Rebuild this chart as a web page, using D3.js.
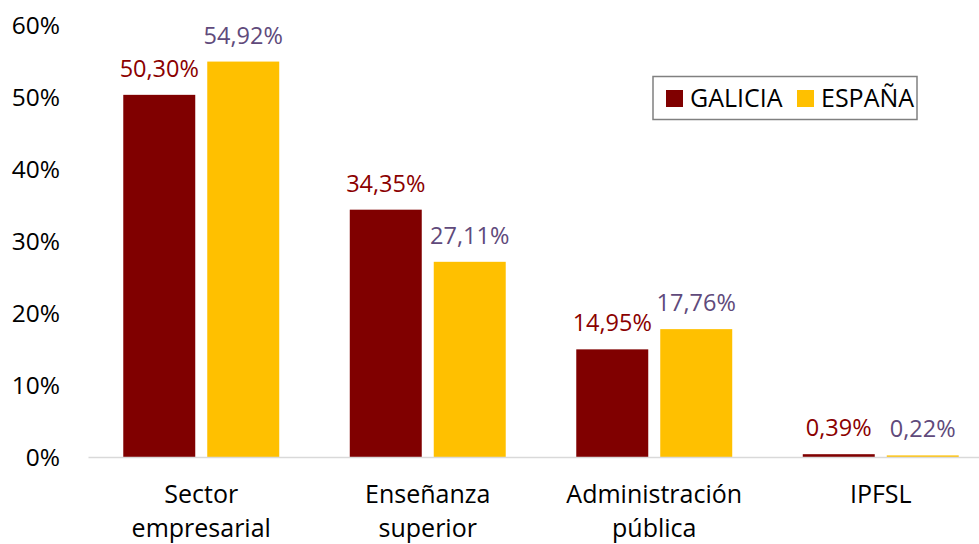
<!DOCTYPE html>
<html>
<head>
<meta charset="utf-8">
<script src="https://cdn.jsdelivr.net/npm/d3@7"></script>
<style>
  html, body { margin: 0; padding: 0; background: #fff; }
  svg { display: block; }
  text { font-family: "Open Sans", "Liberation Sans", sans-serif; }
</style>
</head>
<body>
<svg id="chart" width="979" height="544"></svg>
<script>
const categories = [["Sector", "empresarial"], ["Enseñanza", "superior"], ["Administración", "pública"], ["IPFSL"]];
const seriesNames = ["GALICIA", "ESPAÑA"];
const galicia = [50.30, 34.35, 14.95, 0.39];
const espana = [54.92, 27.11, 17.76, 0.22];
const yTicks = [0, 10, 20, 30, 40, 50, 60];
const barColors = ["#800000", "#FFC000"];
const labelColors = ["#8B0000", "#604A7B"];

const seriesValues = [galicia, espana];
const fmt = v => v.toFixed(2).replace(".", ",") + "%";

const svg = d3.select("#chart");
const catKeys = categories.map(c => c.join(" "));

const x0 = d3.scaleBand().domain(catKeys).range([88, 994]).padding(0);
const x1 = d3.scaleBand().domain(seriesNames).range([0, x0.bandwidth()])
  .paddingInner(12 / 84).paddingOuter(0.42);
const y = d3.scaleLinear().domain([0, 60]).range([457, 25]);

// y tick labels
const yAxis = d3.axisLeft(y).tickValues(yTicks).tickFormat(d => d + "%").tickSize(0).tickPadding(0);
const gy = svg.append("g").attr("transform", "translate(60,1)").call(yAxis);
gy.select(".domain").remove();
gy.selectAll("text").attr("font-size", 24.5).attr("fill", "#000")
  .style("font-family", '"Open Sans", sans-serif');

// bars
const groups = svg.append("g").selectAll("g").data(catKeys).join("g")
  .attr("transform", d => `translate(${x0(d)},0)`);

seriesNames.forEach((s, si) => {
  groups.append("rect")
    .attr("x", x1(s))
    .attr("width", x1.bandwidth())
    .attr("y", (d, i) => y(seriesValues[si][i]))
    .attr("height", (d, i) => y(0) - y(seriesValues[si][i]))
    .attr("fill", barColors[si]);
  groups.append("text")
    .attr("x", x1(s) + x1.bandwidth() / 2)
    .attr("y", (d, i) => y(seriesValues[si][i]) - 18)
    .attr("text-anchor", "middle")
    .attr("font-size", 23.5)
    .attr("fill", labelColors[si])
    .text((d, i) => fmt(seriesValues[si][i]));
});

// x axis line
const xAxis = d3.axisBottom(x0).tickSize(0).tickFormat("");
const gx = svg.append("g").attr("transform", `translate(0,${y(0)})`).call(xAxis);
gx.select(".domain").attr("stroke", "#D9D9D9").attr("stroke-width", 1.5);

// category labels
categories.forEach((lines, i) => {
  const t = svg.append("text")
    .attr("x", x0(catKeys[i]) + x0.bandwidth() / 2)
    .attr("y", 503)
    .attr("text-anchor", "middle")
    .attr("font-size", 25)
    .attr("fill", "#000");
  lines.forEach((ln, li) => {
    t.append("tspan").attr("x", x0(catKeys[i]) + x0.bandwidth() / 2)
      .attr("dy", li === 0 ? 0 : 34).text(ln);
  });
});

// legend
const lg = svg.append("g");
lg.append("rect").attr("x", 653).attr("y", 76.5).attr("width", 264).attr("height", 43)
  .attr("fill", "#fff").attr("stroke", "#808080").attr("stroke-width", 1.5);
const legendX = [666, 797];
seriesNames.forEach((s, si) => {
  lg.append("rect").attr("x", legendX[si]).attr("y", 90).attr("width", 17).attr("height", 17)
    .attr("fill", barColors[si]);
  lg.append("text").attr("x", legendX[si] + 24).attr("y", 107)
    .attr("font-size", 25).attr("fill", "#000").text(s);
});
</script>
</body>
</html>
